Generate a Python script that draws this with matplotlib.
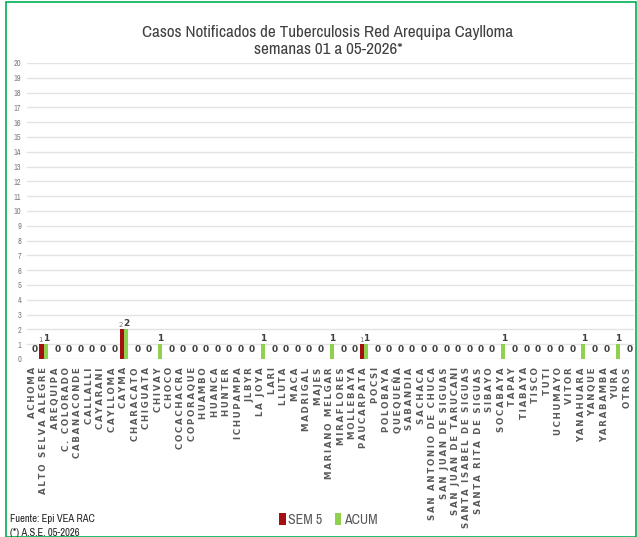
import numpy as np
import matplotlib.pyplot as plt
from matplotlib import font_manager
from matplotlib.patches import Rectangle

# datos
distritos = ["ACHOMA", "ALTO SELVA ALEGRE", "AREQUIPA", "C. COLORADO", "CABANACONDE",
             "CALLALLI", "CAYARANI", "CAYLLOMA", "CAYMA", "CHARACATO", "CHIGUATA",
             "CHIVAY", "CHOCO", "COCACHACRA", "COPORAQUE", "HUAMBO", "HUANCA", "HUNTER",
             "ICHUPAMPA", "JLBYR", "LA JOYA", "LARI", "LLUTA", "MACA", "MADRIGAL", "MAJES",
             "MARIANO MELGAR", "MIRAFLORES", "MOLLEBAYA", "PAUCARPATA", "POCSI", "POLOBAYA",
             "QUEQUEÑA", "SABANDIA", "SACHACA", "SAN ANTONIO DE CHUCA", "SAN JUAN DE SIGUAS",
             "SAN JUAN DE TARUCANI", "SANTA ISABEL DE SIGUAS", "SANTA RITA DE SIGUAS",
             "SIBAYO", "SOCABAYA", "TAPAY", "TIABAYA", "TISCO", "TUTI", "UCHUMAYO", "VITOR",
             "YANAHUARA", "YANQUE", "YARABAMBA", "YURA", "OTROS"]
sem5 = [0, 1, 0, 0, 0, 0, 0, 0, 2, 0, 0, 0, 0, 0, 0, 0, 0, 0, 0, 0, 0, 0, 0, 0, 0, 0,
        0, 0, 0, 1, 0, 0, 0, 0, 0, 0, 0, 0, 0, 0, 0, 0, 0, 0, 0, 0, 0, 0, 0, 0, 0, 0, 0]
acum = [0, 1, 0, 0, 0, 0, 0, 0, 2, 0, 0, 1, 0, 0, 0, 0, 0, 0, 0, 0, 1, 0, 0, 0, 0, 0,
        1, 0, 0, 1, 0, 0, 0, 0, 0, 0, 0, 0, 0, 0, 0, 1, 0, 0, 0, 0, 0, 0, 1, 0, 0, 1, 0]
yticks = list(range(0, 21))

ROJO = "#A50F0F"
VERDE = "#8FD14F"
GRIS = "#595959"

# buscar una fuente estrecha (tipo Arial Narrow) si existe
narrow = None
for f in font_manager.fontManager.ttflist:
    if "Narrow" in f.name or "Condensed" in f.name:
        narrow = f.name
        break
if narrow:
    NARROW = [narrow, "DejaVu Sans"]
    t_size, f_size = 12.3, 7.6
else:
    NARROW = ["Liberation Sans", "DejaVu Sans"]
    t_size, f_size = 10.2, 6

fig = plt.figure(figsize=(6.37, 5.37), dpi=100)
fig.patches.append(Rectangle((6 / 637, 0), 1 - 7 / 637, 1 - 2 / 537, transform=fig.transFigure,
                             fill=False, edgecolor="#00B050", linewidth=1.2))

ax = fig.add_axes([27 / 637, 1 - 359 / 537, (634 - 27) / 637, (359 - 63) / 537])
x = np.arange(len(distritos))
w = 0.36
ax.bar(x - w / 2, sem5, width=w, color=ROJO, label="SEM 5")
ax.bar(x + w / 2, acum, width=w, color=VERDE, label="ACUM")

for i in range(len(distritos)):
    if sem5[i] == 0 and acum[i] == 0:
        ax.text(x[i] + 0.2, 0.35, "0", ha="center", va="bottom", fontsize=6.5,
                fontweight="bold", color="#404040")
        continue
    if sem5[i] > 0:
        ax.text(x[i] - w / 2 - 0.05, sem5[i] + 0.08, str(sem5[i]), ha="center", va="bottom",
                fontsize=5, color="#7F7F7F")
    ax.text(x[i] + w / 2 + 0.05, acum[i] + 0.08, str(acum[i]), ha="center", va="bottom",
            fontsize=6.5, fontweight="bold", color="#404040")

# etiquetas con espaciado entre letras, como en el original
espaciadas = ["\u2009".join(d) for d in distritos]

ax.set_xlim(-0.45, 52.6)
ax.set_ylim(0, 20)
ax.set_yticks(yticks)
ax.set_yticklabels([str(t) for t in yticks], fontsize=6, color="#808080", family=NARROW)
ax.yaxis.grid(True, color="#E3E3E3", linewidth=1)
ax.set_axisbelow(True)
ax.set_xticks(x)
ax.set_xticklabels(espaciadas, rotation=90, fontsize=6.2, fontweight="bold", color=GRIS)
ax.tick_params(length=0, pad=6)
ax.tick_params(axis="y", pad=4)
for s in ax.spines.values():
    s.set_visible(False)

fig.text(0.515, 1 - 32 / 537, "Casos Notificados de Tuberculosis Red Arequipa Caylloma",
         ha="center", va="center", fontsize=t_size, color="#404040", family=NARROW)
fig.text(0.515, 1 - 49 / 537, "semanas 01 a 05-2026*", ha="center", va="center",
         fontsize=t_size, color="#404040", family=NARROW)

fig.legend(loc="center", bbox_to_anchor=(328 / 637, 1 - 520 / 537), ncol=2, frameon=False,
           handlelength=0.5, handleheight=0.9, handletextpad=0.15,
           columnspacing=0.9, labelcolor=GRIS, prop={"family": NARROW, "size": 10})

fig.text(10 / 637, 1 - 519 / 537, "Fuente: Epi VEA RAC", ha="left", va="center",
         fontsize=f_size, fontweight="bold", color="#202020", family=NARROW)
fig.text(10 / 637, 1 - 533 / 537, "(*) A.S.E. 05-2026", ha="left", va="center",
         fontsize=f_size, fontweight="bold", color="#202020", family=NARROW)

fig.savefig("out.png", dpi=100)
